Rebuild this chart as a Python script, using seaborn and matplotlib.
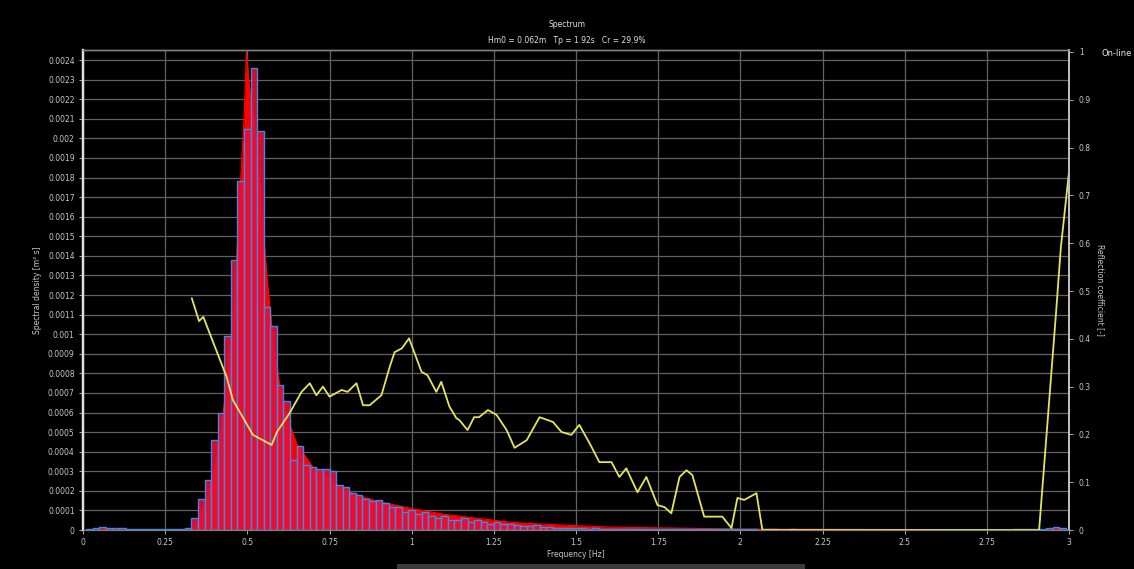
import numpy as np
import pandas as pd
import matplotlib
matplotlib.use("Agg")
import matplotlib.pyplot as plt
import seaborn as sns
from matplotlib.patches import Rectangle

# ---------------- DATA ----------------
# measured spectrum, 0.02 Hz bins (bin centres in Hz)
bin_width = 0.02
bin_centres = np.round(np.arange(0.02, 2.99, bin_width), 3)
measured_density = [
    # 0.02 - 0.32
    0.000005, 0.000008, 0.000015, 0.00001, 0.000008, 0.000008, 0.000006, 0.000005,
    0.000005, 0.000004, 0.000004, 0.000003, 0.000003, 0.000004, 0.000006, 0.00001,
    # 0.34 - 0.64
    0.00006, 0.00016, 0.000255, 0.00046, 0.0006, 0.00099, 0.00138, 0.00178,
    0.00205, 0.00236, 0.00204, 0.00114, 0.00104, 0.00074, 0.00066, 0.00036,
    # 0.66 - 0.96
    0.00043, 0.00033, 0.00032, 0.00031, 0.00031, 0.0003, 0.00023, 0.00022,
    0.00019, 0.00018, 0.00016, 0.00015, 0.000155, 0.00014, 0.00012, 0.00012,
    # 0.98 - 1.28
    0.00009, 0.0001, 0.00008, 0.00009, 0.00007, 0.00006, 0.00007, 0.00005,
    0.00005, 0.00006, 0.00004, 0.00005, 0.00004, 0.00003, 0.00004, 0.00003,
    # 1.30 - 1.60
    0.00003, 0.000025, 0.00002, 0.00002, 0.000025, 0.000015, 0.000015, 0.00001,
    0.00001, 0.000012, 0.000008, 0.000008, 0.000007, 0.000008, 0.000006, 0.000007,
    # 1.62 - 1.92
    0.000006, 0.000005, 0.000006, 0.000005, 0.000005, 0.000004, 0.000005, 0.000004,
    0.000004, 0.000005, 0.000004, 0.000004, 0.000003, 0.000004, 0.000004, 0.000003,
    # 1.94 - 2.24
    0.000003, 0.000004, 0.000003, 0.000003, 0.000003, 0.000003, 0.000002, 0.000003,
    0.000003, 0.000002, 0.000002, 0.000003, 0.000002, 0.000002, 0.000002, 0.000002,
    # 2.26 - 2.56
    0.000002, 0.000002, 0.000002, 0.000002, 0.000002, 0.000002, 0.000002, 0.000002,
    0.000002, 0.000002, 0.000002, 0.000002, 0.000002, 0.000002, 0.000002, 0.000002,
    # 2.58 - 2.88
    0.000002, 0.000002, 0.000002, 0.000002, 0.000002, 0.000002, 0.000002, 0.000002,
    0.000002, 0.000002, 0.000002, 0.000002, 0.000002, 0.000003, 0.000003, 0.000003,
    # 2.90 - 2.98
    0.000004, 0.000006, 0.00001, 0.000014, 0.000012,
]

# fitted (theoretical) spectrum
fit_freq = [0.30, 0.33, 0.35, 0.38, 0.40, 0.42, 0.44, 0.46, 0.48, 0.49, 0.497,
            0.51, 0.52, 0.54, 0.56, 0.58, 0.60, 0.625, 0.65, 0.70, 0.75, 0.80,
            0.85, 0.90, 1.00, 1.10, 1.20, 1.30, 1.40, 1.60, 2.00, 3.00]
fit_density = [0.0, 0.0, 0.00005, 0.00018, 0.00032, 0.0005, 0.0008, 0.00115,
               0.0018, 0.0021, 0.00244, 0.0022, 0.0021, 0.00172, 0.00128,
               0.00095, 0.00072, 0.00056, 0.00044, 0.00032, 0.00026, 0.0002,
               0.00017, 0.000145, 0.00011, 0.00008, 0.00006, 0.00004, 0.00003,
               0.000015, 0.000005, 0.0]

# reflection coefficient
refl_freq = [0.331, 0.353, 0.366, 0.437, 0.456, 0.517, 0.574, 0.590, 0.629,
             0.665, 0.690, 0.710, 0.730, 0.750, 0.787, 0.805, 0.832, 0.852,
             0.872, 0.908, 0.933, 0.948, 0.970, 0.992, 1.030, 1.048, 1.075,
             1.090, 1.115, 1.136, 1.145, 1.170, 1.190, 1.205, 1.232, 1.258,
             1.289, 1.313, 1.350, 1.389, 1.430, 1.456, 1.486, 1.510, 1.541,
             1.571, 1.608, 1.632, 1.653, 1.687, 1.714, 1.748, 1.769, 1.790,
             1.815, 1.836, 1.854, 1.890, 1.930, 1.945, 1.973, 1.991, 2.012,
             2.049, 2.067, 2.500, 2.909, 2.960, 2.975, 3.000]
refl_coef = [0.485, 0.437, 0.446, 0.320, 0.272, 0.199, 0.178, 0.205, 0.245,
             0.289, 0.307, 0.282, 0.300, 0.279, 0.293, 0.289, 0.307, 0.261,
             0.261, 0.282, 0.341, 0.372, 0.380, 0.401, 0.331, 0.324, 0.289,
             0.310, 0.258, 0.234, 0.230, 0.209, 0.236, 0.236, 0.251, 0.241,
             0.209, 0.172, 0.188, 0.236, 0.226, 0.205, 0.199, 0.220, 0.182,
             0.142, 0.142, 0.111, 0.129, 0.079, 0.111, 0.052, 0.048, 0.035,
             0.111, 0.125, 0.115, 0.028, 0.028, 0.028, 0.004, 0.067, 0.063,
             0.077, 0.0, 0.0, 0.0, 0.45, 0.59, 0.75]

title = "Spectrum"
subtitle = "Hm0 = 0.062m   Tp = 1.92s   Cr = 29.9%"

x_ticks = [0, 0.25, 0.5, 0.75, 1, 1.25, 1.5, 1.75, 2, 2.25, 2.5, 2.75, 3]
x_tick_labels = ["0", "0.25", "0.5", "0.75", "1", "1.25", "1.5", "1.75",
                 "2", "2.25", "2.5", "2.75", "3"]

# ---------------- STYLE ----------------
sns.set_theme(style="dark", rc={
    "figure.facecolor": "black",
    "axes.facecolor": "black",
    "savefig.facecolor": "black",
    "text.color": "#d8d8d8",
    "axes.labelcolor": "#c8c8c8",
    "xtick.color": "#c8c8c8",
    "ytick.color": "#c8c8c8",
})
plt.rcParams["font.family"] = ["DejaVu Sans"]

GRID = "#626262"
TXT = "#c8c8c8"
BLUE = "#3a8ae6"

fig = plt.figure(figsize=(11.34, 5.69), dpi=100)
ax = fig.add_axes([0.0732, 0.0685, 0.8695, 0.8435])

ax.set_axisbelow(True)
ax.grid(True, color=GRID, linewidth=0.9)

# fitted spectrum, red area
sns.lineplot(x=fit_freq, y=fit_density, ax=ax, color="#ff0000", linewidth=0.8, zorder=1.5)
ax.fill_between(fit_freq, fit_density, color="#ff0000", linewidth=0, zorder=1.5)

# measured spectrum, crimson bars with blue outlines, above the red area
spec = pd.DataFrame({"freq": bin_centres, "density": measured_density})
edges = list(np.round(np.arange(0.01, 3.0, bin_width), 3))
sns.histplot(data=spec, x="freq", weights="density", bins=edges, element="bars",
             fill=True, color=BLUE, linewidth=1.0, ax=ax)
for p in ax.patches:
    p.set_facecolor((0.93, 0.05, 0.2, 0.9))
    p.set_edgecolor(BLUE)
    p.set_zorder(3)

ax.set_xlim(0, 3)
ax.set_ylim(0, 0.002451)
ax.set_xticks(x_ticks)
ax.set_xticklabels(x_tick_labels)
left_ticks = np.round(np.arange(0, 0.00241, 0.0001), 4)
ax.set_yticks(left_ticks)
ax.set_yticklabels([f"{v:.4f}".rstrip("0").rstrip(".") for v in left_ticks])
ax.tick_params(axis="both", labelsize=5.5, colors=TXT, length=3, width=0.6,
               direction="out", left=True, bottom=True, pad=3)
ax.set_xlabel("Frequency [Hz]", fontsize=5.5, color=TXT, labelpad=2)
ax.set_ylabel("Spectral density [m² s]", fontsize=5.5, color=TXT, labelpad=4)

# reflection coefficient on the right axis
ax2 = ax.twinx()
sns.lineplot(x=refl_freq, y=refl_coef, ax=ax2, color="#e4e45e", linewidth=1.3)
ax2.set_ylim(0, 1.004)
ax2.set_yticks(np.round(np.arange(0, 1.01, 0.1), 1))
ax2.set_yticklabels(["0", "0.1", "0.2", "0.3", "0.4", "0.5", "0.6", "0.7",
                     "0.8", "0.9", "1"])
ax2.tick_params(axis="y", labelsize=5.5, colors=TXT, length=3, width=0.6,
                direction="out", right=True, pad=4)
ax2.set_ylabel("Reflection coefficient [-]", fontsize=5.5, color=TXT,
               rotation=270, labelpad=10)
ax2.grid(False)

for a in (ax, ax2):
    a.spines["left"].set_color("#e0e0e0")
    a.spines["left"].set_linewidth(1.6)
    a.spines["right"].set_color("#bdbdbd")
    a.spines["right"].set_linewidth(1.4)
    a.spines["top"].set_color("#808080")
    a.spines["top"].set_linewidth(1.0)
    a.spines["bottom"].set_color("#808080")
    a.spines["bottom"].set_linewidth(0.8)

fig.text(0.5, 0.957, title, ha="center", va="center", fontsize=5.5, color="#e0e0e0")
fig.text(0.5, 0.929, subtitle, ha="center", va="center", fontsize=5.5, color="#e0e0e0")
fig.text(0.971, 0.906, "On-line", ha="left", va="center", fontsize=6, color="#e8e8e8")

# scrollbar strip at the bottom edge
fig.patches.append(Rectangle((0.35, 0.0), 0.36, 0.008, transform=fig.transFigure,
                             facecolor="#3a3a3a", edgecolor="none"))

fig.savefig("out.png", dpi=100, facecolor="black")
